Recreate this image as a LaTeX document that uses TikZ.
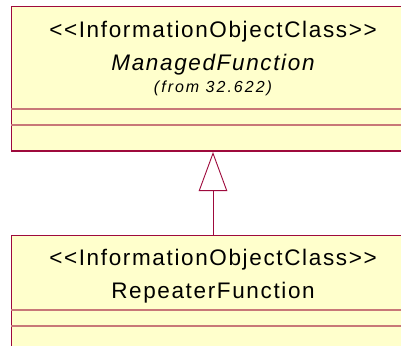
\documentclass[tikz,border=0pt]{standalone}
\usepackage{fontspec}
\setmainfont{Liberation Sans}
\newfontfamily\umlbigfont[LetterSpace=7.3]{Liberation Sans}
\newfontfamily\umlsmallfont[LetterSpace=12.5]{Liberation Sans}
\usetikzlibrary{arrows.meta}
\definecolor{umlborder}{RGB}{158,10,60}
\definecolor{umlsep}{RGB}{200,120,120}
\definecolor{umlfill}{RGB}{255,255,204}
\tikzset{
  classbox/.style={draw=umlborder, line width=1bp, fill=umlfill, rectangle, minimum width=402bp, inner sep=0pt},
  bigtext/.style={anchor=base, inner sep=0pt, font=\umlbigfont\fontsize{22.5bp}{26bp}\selectfont},
  smalltext/.style={anchor=base, inner sep=0pt, font=\umlsmallfont\itshape\fontsize{16bp}{19bp}\selectfont},
  sepline/.style={draw=umlsep, line width=1.4bp},
  genline/.style={draw=umlborder, line width=0.9bp, -{Triangle[open, length=39bp, width=28.5bp, fill=white]}}
}
\begin{document}
\begin{tikzpicture}[x=1bp, y=-1bp]
\useasboundingbox (0,0) rectangle (401,346);
\clip (0,0) rectangle (401,346);
% top class
\node[classbox, minimum height=144bp] (mf) at (213,78) {};
\draw[sepline] (mf.west |- 0,109) -- (mf.east |- 0,109);
\draw[sepline] (mf.west |- 0,125) -- (mf.east |- 0,125);
\draw[draw=umlborder, line width=2bp] (mf.south west) -- (mf.south east);
\node[bigtext] (mf1) at (213,37) {<<InformationObjectClass>>};
\node[bigtext, font=\umlbigfont\itshape\fontsize{22.5bp}{26bp}\selectfont] (mf2) at (213,70.5) {ManagedFunction};
\node[smalltext] (mf3) at (213,92.5) {(from 32.622)};
% bottom class
\node[classbox, minimum height=140bp] (rf) at (213,305) {};
\draw[sepline] (rf.west |- 0,310) -- (rf.east |- 0,310);
\draw[sepline] (rf.west |- 0,326) -- (rf.east |- 0,326);
\node[bigtext] (rf1) at (213,265.5) {<<InformationObjectClass>>};
\node[bigtext] (rf2) at (213,298.5) {RepeaterFunction};
% generalization
\draw[genline] (rf.north) -- ([yshift=-1.5bp]mf.south);
\end{tikzpicture}
\end{document}
